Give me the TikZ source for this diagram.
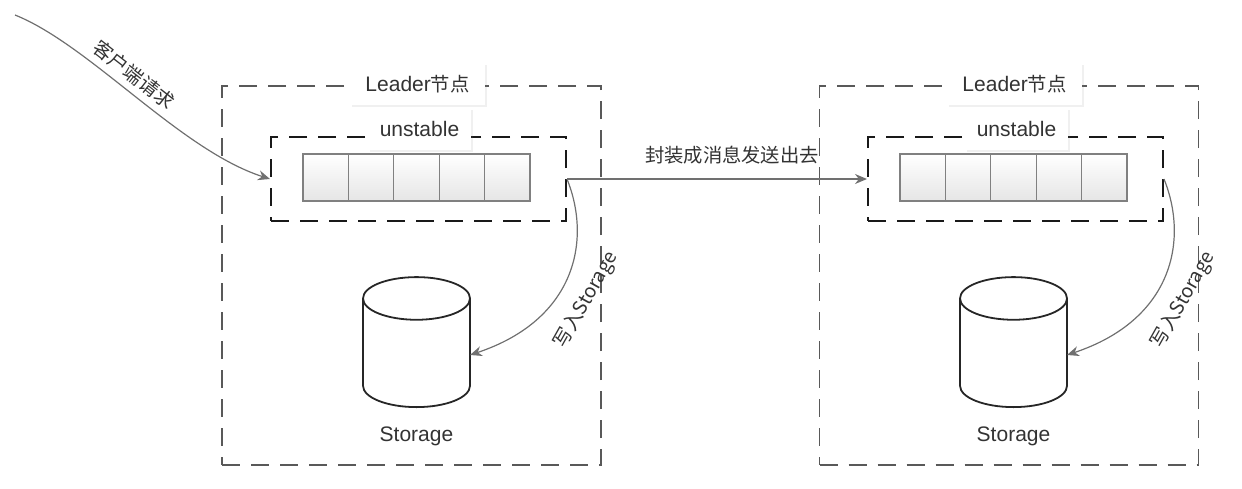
\documentclass[tikz,border=0pt]{standalone}
\usepackage{fontspec}
\setmainfont{Liberation Sans}
\newfontfamily\cjk[Scale=0.92]{Noto Sans CJK SC}
\usetikzlibrary{positioning,shapes.geometric,arrows.meta,shadows}
\definecolor{txt}{HTML}{333333}
\definecolor{conn}{HTML}{707070}

\tikzset{
  outerbox/.style={draw=black!65, line width=0.6pt, dash pattern=on 9pt off 5.5pt,
    minimum width=189.5pt, minimum height=189.5pt},
  innerbox/.style={draw=black!90, line width=1pt, dash pattern=on 9pt off 5.5pt,
    minimum width=147.5pt, minimum height=42pt},
  cell/.style={draw=black!50, line width=0.6pt, top color=white, bottom color=black!10,
    minimum width=22.7pt, minimum height=23.5pt, inner sep=0pt, outer sep=0pt},
  tag/.style={fill=white, minimum height=21pt, inner sep=2pt,
    drop shadow={opacity=0.12, shadow xshift=1pt, shadow yshift=-1pt}},
  store/.style={cylinder, draw=black!85, line width=0.9pt, shape border rotate=90,
    aspect=3.2, minimum width=53.5pt, minimum height=65pt, anchor=south},
  flow/.style={draw=conn, line width=0.6pt, -{Stealth[length=6pt,width=5pt]}},
}

\begin{document}
\begin{tikzpicture}[x=0.5pt, y=-0.5pt, font=\fontsize{10.5}{12}\selectfont, text=txt]
  \useasboundingbox (0,0) rectangle (1242,488);
  % leader
  \node [outerbox] (leaderL) at (411.5,275.5) {};
  \node [innerbox] (queueL) at (418.5,179) {};
  \node [cell] (l1) at (325.7,177.5) {};
  \node [cell] (l2) [right=0pt of l1] {};
  \node [cell] (l3) [right=0pt of l2] {};
  \node [cell] (l4) [right=0pt of l3] {};
  \node [cell] (l5) [right=0pt of l4] {};
  \node [tag, minimum width=67.5pt] (titleL) at (417.5,84) {Leader{\cjk 节点}};
  \node [tag, minimum width=51.5pt] (unstL) at (419.5,129) {unstable};
  \node [store] (storeL) at (416.5,408) {};
  \node (nameL) [below=6pt of storeL] {Storage};
  % second node
  \node [outerbox] (leaderF) at (1009,275.5) {};
  \node [innerbox] (queueF) at (1015.5,179) {};
  \node [cell] (f1) at (922.7,177.5) {};
  \node [cell] (f2) [right=0pt of f1] {};
  \node [cell] (f3) [right=0pt of f2] {};
  \node [cell] (f4) [right=0pt of f3] {};
  \node [cell] (f5) [right=0pt of f4] {};
  \node [tag, minimum width=67.5pt] (titleF) at (1014.5,84) {Leader{\cjk 节点}};
  \node [tag, minimum width=51.5pt] (unstF) at (1016.5,129) {unstable};
  \node [store] (storeF) at (1013.5,408) {};
  \node (nameF) [below=6pt of storeF] {Storage};

  \coordinate (client) at (15,15);
  \draw [flow] (client) .. controls (90,45) and (180,150) ..
    node [sloped, above, pos=0.45] {\cjk 客户端请求} (queueL.west);
  \draw [flow] (queueL.east) -- node [above=4pt, pos=0.55] {\cjk 封装成消息发送出去} (queueF.west);
  \draw [flow] (queueL.east) .. controls +(25,62) and +(105,-35) ..
    node [sloped, below=5pt, pos=0.55] {\cjk 写入Storage} ([xshift=26.75pt, yshift=26.5pt]storeL.south);
  \draw [flow] (queueF.east) .. controls +(25,62) and +(105,-35) ..
    node [sloped, below=5pt, pos=0.55] {\cjk 写入Storage} ([xshift=26.75pt, yshift=26.5pt]storeF.south);
\end{tikzpicture}
\end{document}
